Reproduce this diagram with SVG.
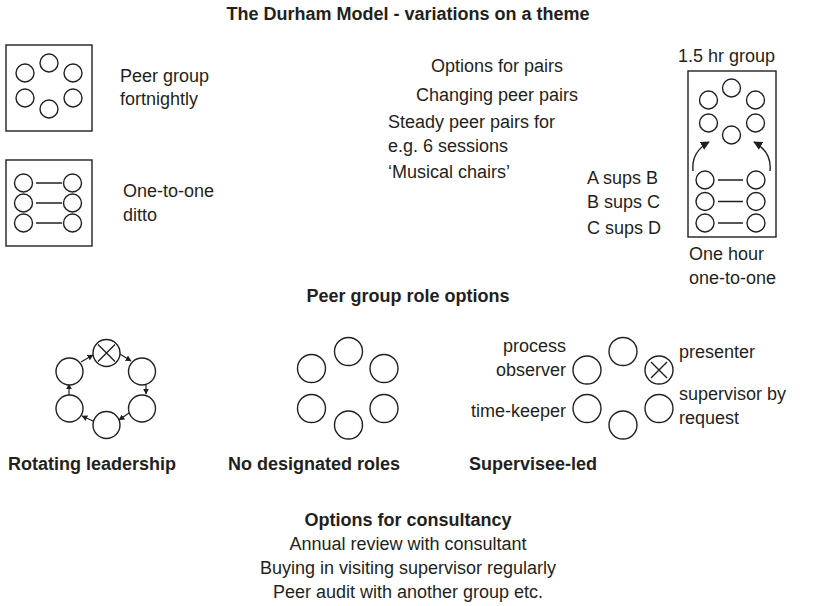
<svg xmlns="http://www.w3.org/2000/svg" width="815" height="606" viewBox="0 0 815 606">
  <style>
    text { font-family: "Liberation Sans", Arial, sans-serif; font-size: 18px; fill: #231f20; }
    .b { font-weight: bold; }
    .m { text-anchor: middle; }
    .e { text-anchor: end; }
    .c { fill: #fff; stroke: #231f20; stroke-width: 1.4; }
    .box { fill: none; stroke: #231f20; stroke-width: 1.4; }
    .ln { fill: none; stroke: #231f20; stroke-width: 1.4; }
    .ar { fill: none; stroke: #231f20; stroke-width: 1.2; marker-end: url(#head); }
  </style>
  <defs>
    <marker id="head" viewBox="0 0 10 10" refX="9" refY="5" markerWidth="6" markerHeight="6" markerUnits="userSpaceOnUse" orient="auto">
      <path d="M0,0 L10,5 L0,10 z" fill="#231f20"/>
    </marker>
    <marker id="headL" viewBox="0 0 10 10" refX="9" refY="5" markerWidth="9" markerHeight="9" markerUnits="userSpaceOnUse" orient="auto">
      <path d="M0,0 L10,5 L0,10 z" fill="#231f20"/>
    </marker>
  </defs>

  <text class="b m" x="408" y="20">The Durham Model - variations on a theme</text>

  <!-- Peer group fortnightly -->
  <g id="peer-group">
    <rect class="box" x="6" y="45" width="86" height="86"/>
    <circle class="c" cx="49" cy="63" r="9"/>
    <circle class="c" cx="25" cy="73" r="9"/>
    <circle class="c" cx="73" cy="73" r="9"/>
    <circle class="c" cx="25" cy="98" r="9"/>
    <circle class="c" cx="73" cy="98" r="9"/>
    <circle class="c" cx="49" cy="109" r="9"/>
    <text x="120" y="82">Peer group</text>
    <text x="120" y="105">fortnightly</text>
  </g>

  <!-- One-to-one ditto -->
  <g id="one-to-one">
    <rect class="box" x="6" y="160" width="86" height="86"/>
    <circle class="c" cx="23.5" cy="183" r="9"/>
    <circle class="c" cx="72.5" cy="183" r="9"/>
    <circle class="c" cx="23.5" cy="203" r="9"/>
    <circle class="c" cx="72.5" cy="203" r="9"/>
    <circle class="c" cx="23.5" cy="223" r="9"/>
    <circle class="c" cx="72.5" cy="223" r="9"/>
    <path class="ln" d="M36,183 H62 M36,203 H62 M36,223 H62"/>
    <text x="123" y="197">One-to-one</text>
    <text x="123" y="221">ditto</text>
  </g>

  <!-- Options for pairs -->
  <g id="pairs">
    <text class="m" x="497" y="72">Options for pairs</text>
    <text class="m" x="497" y="101">Changing peer pairs</text>
    <text x="388" y="128">Steady peer pairs for</text>
    <text x="388" y="152">e.g. 6 sessions</text>
    <text x="388" y="178">‘Musical chairs’</text>
    <text x="587" y="184">A sups B</text>
    <text x="587" y="208">B sups C</text>
    <text x="587" y="234">C sups D</text>
  </g>

  <!-- 1.5 hr group / one hour one-to-one -->
  <g id="combined">
    <text x="678" y="62">1.5 hr group</text>
    <rect class="box" x="688" y="71" width="88" height="166"/>
    <circle class="c" cx="731.5" cy="88" r="9"/>
    <circle class="c" cx="708.5" cy="100" r="9"/>
    <circle class="c" cx="755.5" cy="100" r="9"/>
    <circle class="c" cx="708.5" cy="123" r="9"/>
    <circle class="c" cx="755.5" cy="123" r="9"/>
    <circle class="c" cx="731.5" cy="135" r="9"/>
    <circle class="c" cx="705" cy="180" r="9"/>
    <circle class="c" cx="756" cy="180" r="9"/>
    <circle class="c" cx="705" cy="201.5" r="9"/>
    <circle class="c" cx="756" cy="201.5" r="9"/>
    <circle class="c" cx="705" cy="223" r="9"/>
    <circle class="c" cx="756" cy="223" r="9"/>
    <path class="ln" d="M718,180 H743 M718,201.5 H743 M718,223 H743"/>
    <text x="689" y="260">One hour</text>
    <text x="689" y="284">one-to-one</text>
  </g>

  <g id="connectors">
    <path class="ln" d="M693,171 Q691,152 709,142" marker-end="url(#headL)"/>
    <path class="ln" d="M770,171 Q772,152 754,142" marker-end="url(#headL)"/>
    <!-- rotating leadership cycle -->
    <line class="ar" x1="81" y1="362" x2="93" y2="355"/>
    <line class="ar" x1="120" y1="354" x2="131" y2="361"/>
    <line class="ar" x1="146" y1="384" x2="146" y2="394"/>
    <line class="ar" x1="129" y1="413" x2="119" y2="420"/>
    <line class="ar" x1="93" y1="421" x2="82" y2="416"/>
    <line class="ar" x1="69" y1="395" x2="69" y2="384"/>
  </g>

  <text class="b m" x="408" y="302">Peer group role options</text>

  <!-- Rotating leadership -->
  <g id="rotating">
    <circle class="c" cx="106.5" cy="353" r="13.5"/>
    <path class="ln" d="M98,344.5 L115,361.5 M115,344.5 L98,361.5"/>
    <circle class="c" cx="69.5" cy="371.5" r="13.5"/>
    <circle class="c" cx="142" cy="371.5" r="13.5"/>
    <circle class="c" cx="69.5" cy="408.5" r="13.5"/>
    <circle class="c" cx="142" cy="408.5" r="13.5"/>
    <circle class="c" cx="106.5" cy="425" r="13.5"/>
    <text class="b" x="8" y="470">Rotating leadership</text>
  </g>

  <!-- No designated roles -->
  <g id="no-roles">
    <circle class="c" cx="348.5" cy="351.5" r="14"/>
    <circle class="c" cx="311.5" cy="368.5" r="14"/>
    <circle class="c" cx="384" cy="368.5" r="14"/>
    <circle class="c" cx="311.5" cy="408.5" r="14"/>
    <circle class="c" cx="384" cy="408.5" r="14"/>
    <circle class="c" cx="348.5" cy="425" r="14"/>
    <text class="b m" x="314" y="470">No designated roles</text>
  </g>

  <!-- Supervisee-led -->
  <g id="supervisee-led">
    <circle class="c" cx="623" cy="351.5" r="14"/>
    <circle class="c" cx="587" cy="370" r="14"/>
    <circle class="c" cx="659" cy="370" r="14"/>
    <path class="ln" d="M651,362 L667,378 M667,362 L651,378"/>
    <circle class="c" cx="587" cy="408.5" r="14"/>
    <circle class="c" cx="659" cy="408.5" r="14"/>
    <circle class="c" cx="623" cy="425" r="14"/>
    <text class="e" x="566" y="352">process</text>
    <text class="e" x="566" y="376">observer</text>
    <text class="e" x="566" y="417">time-keeper</text>
    <text x="679" y="358">presenter</text>
    <text x="679" y="400">supervisor by</text>
    <text x="679" y="424">request</text>
    <text class="b m" x="533" y="470">Supervisee-led</text>
  </g>

  <!-- Consultancy -->
  <g id="consultancy">
    <text class="b m" x="408" y="526">Options for consultancy</text>
    <text class="m" x="408" y="550">Annual review with consultant</text>
    <text class="m" x="408" y="574">Buying in visiting supervisor regularly</text>
    <text class="m" x="408" y="598">Peer audit with another group etc.</text>
  </g>
</svg>
